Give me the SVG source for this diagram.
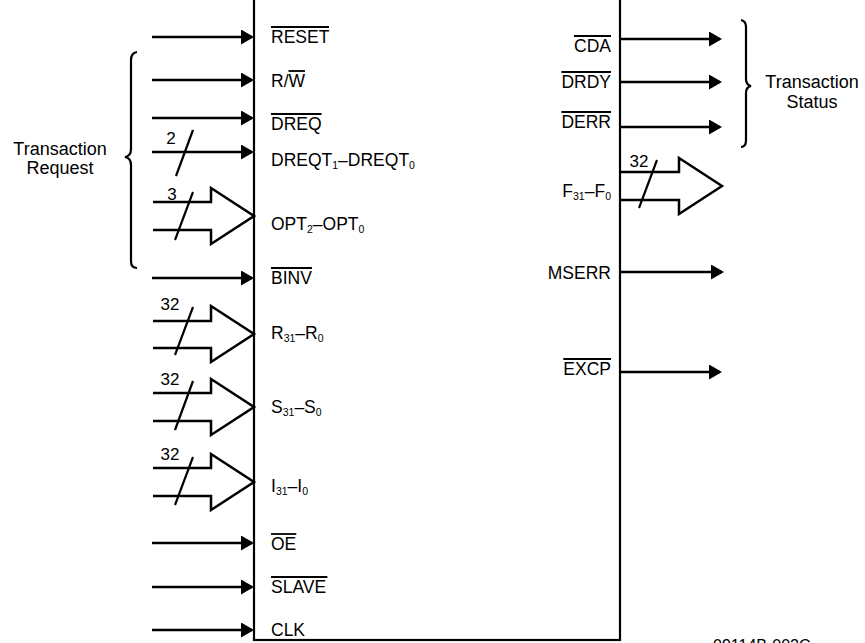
<svg xmlns="http://www.w3.org/2000/svg" width="865" height="643" viewBox="0 0 865 643">
<style>
text{font-family:"Liberation Sans",Arial,sans-serif;fill:#000}
.pin{font-size:17.5px}
.grp{font-size:18px;text-anchor:middle}
.num{font-size:17px;text-anchor:middle}
.end{text-anchor:end}
.sub{font-size:10.5px}
.sig{stroke:#000;stroke-width:2.5;fill:none;marker-end:url(#ah)}
.bus{stroke:#000;stroke-width:2.5;fill:none;stroke-linejoin:miter}
.sl{stroke:#000;stroke-width:2.2;fill:none}
.ov{stroke:#000;stroke-width:1.8}
.br{stroke:#000;stroke-width:2.2;fill:none}
</style>
<defs>
<marker id="ah" markerUnits="userSpaceOnUse" markerWidth="14" markerHeight="16" refX="11" refY="7.5" orient="auto">
<path d="M0,0 L13,7.5 L0,15 z" fill="#000"/>
</marker>
</defs>
<rect x="0" y="0" width="865" height="643" fill="#fff"/>

<g id="chip">
<rect x="254" y="-5" width="366" height="645" fill="none" stroke="#000" stroke-width="2.2"/>
<!-- left pin labels -->
<text class="pin" x="271" y="43">RESET</text>
<line class="ov" x1="271" y1="27" x2="329" y2="27"/>
<text class="pin" x="271" y="87">R/W</text>
<line class="ov" x1="288.5" y1="71" x2="305" y2="71"/>
<text class="pin" x="271" y="130">DREQ</text>
<line class="ov" x1="271" y1="114" x2="321.5" y2="114"/>
<text class="pin" x="271" y="166">DREQT<tspan class="sub" dy="3">1</tspan><tspan dy="-3">–DREQT</tspan><tspan class="sub" dy="3">0</tspan></text>
<text class="pin" x="271" y="230">OPT<tspan class="sub" dy="3">2</tspan><tspan dy="-3">–OPT</tspan><tspan class="sub" dy="3">0</tspan></text>
<text class="pin" x="271" y="284">BINV</text>
<line class="ov" x1="271" y1="268" x2="312" y2="268"/>
<text class="pin" x="271" y="339">R<tspan class="sub" dy="3">31</tspan><tspan dy="-3">–R</tspan><tspan class="sub" dy="3">0</tspan></text>
<text class="pin" x="271" y="413">S<tspan class="sub" dy="3">31</tspan><tspan dy="-3">–S</tspan><tspan class="sub" dy="3">0</tspan></text>
<text class="pin" x="271" y="492">I<tspan class="sub" dy="3">31</tspan><tspan dy="-3">–I</tspan><tspan class="sub" dy="3">0</tspan></text>
<text class="pin" x="271" y="550">OE</text>
<line class="ov" x1="271" y1="534" x2="296.3" y2="534"/>
<text class="pin" x="271" y="593">SLAVE</text>
<line class="ov" x1="271" y1="577" x2="327.4" y2="577"/>
<text class="pin" x="271" y="636">CLK</text>
<!-- right pin labels -->
<text class="pin end" x="611" y="52">CDA</text>
<line class="ov" x1="574" y1="36" x2="611" y2="36"/>
<text class="pin end" x="611" y="88">DRDY</text>
<line class="ov" x1="561.4" y1="72" x2="611" y2="72"/>
<text class="pin end" x="611" y="128">DERR</text>
<line class="ov" x1="561.4" y1="112" x2="611" y2="112"/>
<text class="pin end" x="611" y="197">F<tspan class="sub" dy="3">31</tspan><tspan dy="-3">–F</tspan><tspan class="sub" dy="3">0</tspan></text>
<text class="pin end" x="611" y="279">MSERR</text>
<text class="pin end" x="611" y="375">EXCP</text>
<line class="ov" x1="563.3" y1="359" x2="611" y2="359"/>
</g>

<g id="connectors">
<!-- left single-line inputs -->
<line class="sig" x1="152" y1="37" x2="252" y2="37"/>
<line class="sig" x1="152" y1="80" x2="252" y2="80"/>
<line class="sig" x1="152" y1="118" x2="252" y2="118"/>
<line class="sig" x1="152" y1="152" x2="252" y2="152"/>
<line class="sig" x1="152" y1="278" x2="252" y2="278"/>
<line class="sig" x1="152" y1="543" x2="252" y2="543"/>
<line class="sig" x1="152" y1="587" x2="252" y2="587"/>
<line class="sig" x1="152" y1="630" x2="252" y2="630"/>
<!-- DREQT width mark -->
<line class="sl" x1="193" y1="130" x2="176" y2="176"/>
<text class="num" x="171" y="144">2</text>
<!-- left bus inputs -->
<path class="bus" d="M153,202 H211 V188 L254,216 L211,244 V230 H153"/>
<line class="sl" x1="193" y1="192" x2="175" y2="240"/>
<text class="num" x="172" y="200">3</text>
<path class="bus" d="M153,321 H211 V306 L254,334 L211,362 V348 H153"/>
<line class="sl" x1="193" y1="307" x2="175" y2="355"/>
<text class="num" x="170" y="310">32</text>
<path class="bus" d="M153,393 H211 V379 L254,407 L211,435 V421 H153"/>
<line class="sl" x1="193" y1="381" x2="175" y2="430"/>
<text class="num" x="170" y="385">32</text>
<path class="bus" d="M153,468 H211 V454 L254,482 L211,510 V496 H153"/>
<line class="sl" x1="193" y1="457" x2="175" y2="505"/>
<text class="num" x="170" y="460">32</text>
<!-- right outputs -->
<line class="sig" x1="620" y1="39" x2="720" y2="39"/>
<line class="sig" x1="620" y1="82" x2="720" y2="82"/>
<line class="sig" x1="620" y1="127" x2="720" y2="127"/>
<line class="sig" x1="620" y1="272" x2="722" y2="272"/>
<line class="sig" x1="620" y1="372" x2="720" y2="372"/>
<path class="bus" d="M620,172 H679 V158 L722,186 L679,214 V200 H620"/>
<line class="sl" x1="657" y1="160" x2="639" y2="208"/>
<text class="num" x="639" y="167">32</text>
</g>

<g id="transaction-request">
<path class="br" d="M137,52 Q131,53 131,60 V149 Q131,156 125,157 Q131,158 131,165 V261 Q131,268 137,268"/>
<text class="grp" x="60" y="155">Transaction</text>
<text class="grp" x="60" y="174">Request</text>
</g>

<g id="transaction-status">
<path class="br" d="M741,20 Q746,21 746,27 V79 Q746,85 751,86 Q746,87 746,93 V140 Q746,147 741,147"/>
<text class="grp" x="812" y="88">Transaction</text>
<text class="grp" x="812" y="108">Status</text>
</g>

<text x="713" y="651" font-size="16">09114B-002C</text>
</svg>
